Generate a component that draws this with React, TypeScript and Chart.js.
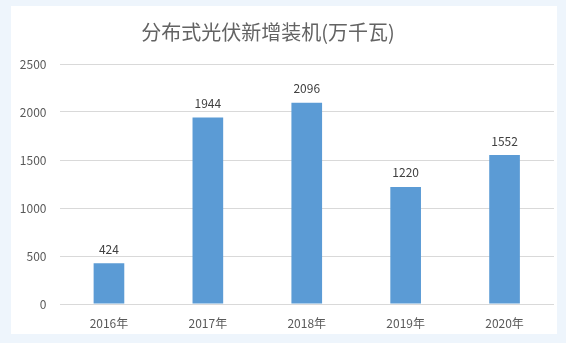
import React, { useEffect, useRef } from "react";
import { Chart, registerables } from "chart.js";

Chart.register(...registerables);

const title = "分布式光伏新增装机(万千瓦)";
const categories = ["2016年", "2017年", "2018年", "2019年", "2020年"];
const values = [424, 1944, 2096, 1220, 1552];
const yTicks = [0, 500, 1000, 1500, 2000, 2500];

const FONT = "'Noto Sans CJK SC', 'Liberation Sans', sans-serif";

const overlayPlugin = {
  id: "overlay",
  afterDatasetsDraw(chart: any) {
    const ctx = chart.ctx;
    const meta = chart.getDatasetMeta(0);
    ctx.save();
    ctx.font = `12px ${FONT}`;
    ctx.fillStyle = "#404040";
    ctx.textAlign = "center";
    ctx.textBaseline = "middle";
    meta.data.forEach((bar: any, i: number) => {
      ctx.fillText(String(values[i]), bar.x, bar.y - 14);
    });
    ctx.font = `20px ${FONT}`;
    ctx.fillStyle = "#636363";
    ctx.fillText(title, 257, 26);
    ctx.restore();
  },
};

export default function App() {
  const ref = useRef<HTMLCanvasElement>(null);
  useEffect(() => {
    if (!ref.current) return;
    const chart = new Chart(ref.current, {
      type: "bar",
      data: {
        labels: categories,
        datasets: [
          {
            data: values,
            backgroundColor: "#5b9bd5",
            barPercentage: 0.31,
            categoryPercentage: 1,
          },
        ],
      },
      options: {
        responsive: false,
        animation: false,
        devicePixelRatio: 1,
        layout: { padding: { left: 0, right: 3, top: 58, bottom: 0 } },
        plugins: {
          legend: { display: false },
          tooltip: { enabled: false },
          title: { display: false },
        },
        scales: {
          x: {
            grid: { display: false, drawTicks: false },
            border: { display: false },
            ticks: {
              color: "#595959",
              font: { family: FONT, size: 12 },
              padding: 12,
            },
            afterFit: (s: any) => {
              s.height = 30;
            },
          },
          y: {
            min: 0,
            max: 2500,
            afterBuildTicks: (s: any) => {
              s.ticks = yTicks.map((v) => ({ value: v }));
            },
            grid: { color: "#d9d9d9", drawTicks: false },
            border: { display: false },
            ticks: {
              color: "#595959",
              font: { family: FONT, size: 12 },
              padding: 13,
              callback: (v: any) => String(v),
            },
            afterFit: (s: any) => {
              s.width = 48.5;
            },
          },
        },
      },
      plugins: [overlayPlugin],
    });
    return () => chart.destroy();
  }, []);
  return (
    <div
      style={{
        position: "fixed",
        left: 0,
        top: 0,
        width: 566,
        height: 343,
        background: "#eef5fc",
      }}
    >
      <div
        style={{
          position: "absolute",
          left: 11,
          top: 6,
          width: 546,
          height: 328,
          background: "#ffffff",
        }}
      >
        <canvas ref={ref} width={546} height={328} style={{ display: "block" }} />
      </div>
    </div>
  );
}
